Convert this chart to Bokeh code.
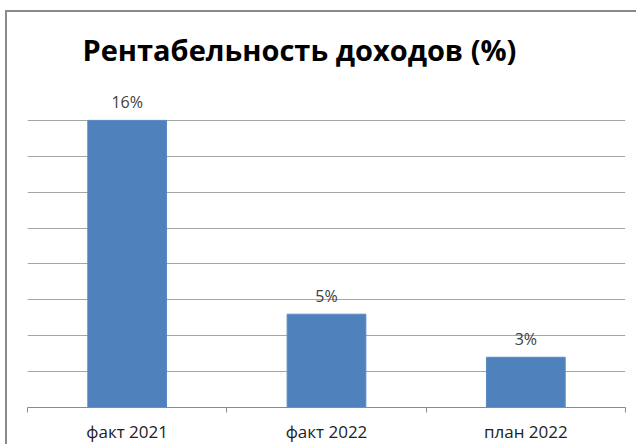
from bokeh.plotting import figure
from bokeh.models import Range1d, FixedTicker, SingleIntervalTicker, ColumnDataSource, LabelSet
from bokeh.core.properties import value
from bokeh.embed import file_html
from bokeh.resources import INLINE

title_text = "Рентабельность доходов (%)"
categories = ["факт 2021", "факт 2022", "план 2022"]
values = [16.0, 5.2, 2.8]
value_labels = ["16%", "5%", "3%"]
y_max = 18
y_step = 2

xs = [i + 0.5 for i in range(len(categories))]
src = ColumnDataSource(dict(x=xs, top=values, label=value_labels))

p = figure(width=631, height=434, output_backend="svg", toolbar_location=None,
           x_range=Range1d(0, len(categories)), y_range=Range1d(0, y_max),
           min_border_left=20, min_border_right=13, min_border_top=72, min_border_bottom=39)
p.styles = {"border-left": "2px solid #8a8a8a", "border-top": "2px solid #8a8a8a",
            "margin-left": "5px", "margin-top": "10px"}

p.title.text = title_text
p.title.text_font = "Open Sans"
p.title.text_font_style = "bold"
p.title.text_font_size = "29px"
p.title.text_color = "#000000"
p.title.align = "left"
p.title.offset = 55
p.title.standoff = 31

p.outline_line_color = None
p.background_fill_color = "white"
p.border_fill_color = "white"

p.vbar(x="x", top="top", width=0.395, bottom=0, source=src,
       fill_color="#4F81BD", line_color="#5a8ac4", line_width=1)

p.add_layout(LabelSet(x="x", y="top", text="label", source=src, y_offset=18,
                      text_align="center", text_baseline="middle",
                      text_font=value("Open Sans"), text_font_size="16px",
                      text_color="#404040"))

p.yaxis.visible = False
p.ygrid.ticker = SingleIntervalTicker(interval=y_step)
p.ygrid.grid_line_color = "#a6a6a6"
p.ygrid.grid_line_width = 1
p.xgrid.visible = False

ax = p.xaxis[0]
ax.ticker = FixedTicker(ticks=xs, minor_ticks=list(range(len(categories) + 1)))
ax.major_label_overrides = {x: c for x, c in zip(xs, categories)}
ax.major_tick_line_color = None
ax.minor_tick_line_color = "#8a8a8a"
ax.minor_tick_in = 0
ax.minor_tick_out = 5
ax.axis_line_color = "#8a8a8a"
ax.major_label_text_font = "Open Sans"
ax.major_label_text_font_size = "17px"
ax.major_label_text_color = "#222222"
ax.major_label_standoff = 6

open("out.html", "w").write(file_html(p, INLINE))
